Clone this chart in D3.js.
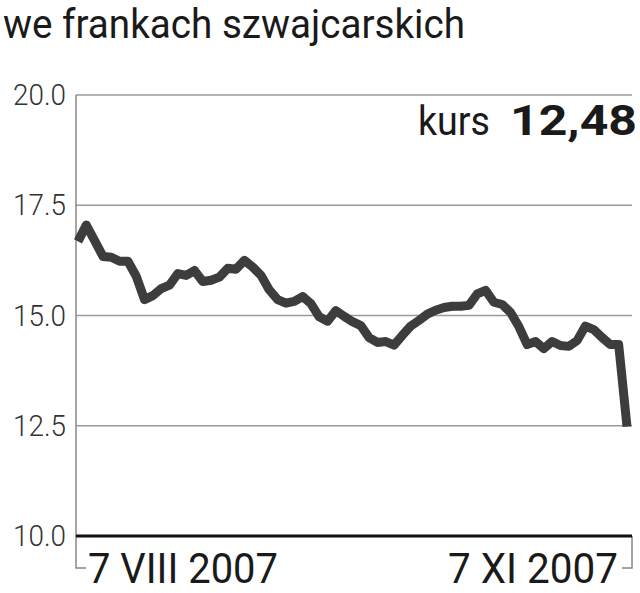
<!DOCTYPE html>
<html><head><meta charset="utf-8">
<script src="https://cdn.jsdelivr.net/npm/d3@7"></script>
<style>html,body{margin:0;padding:0;background:#fff;}svg{display:block;}</style>
</head><body>
<svg id="c" width="640" height="593"></svg>
<script>
const title = "we frankach szwajcarskich";
const yTicks = [10.0, 12.5, 15.0, 17.5, 20.0];
const xLabels = ["7 VIII 2007", "7 XI 2007"];
const lastLabel = "kurs";
const lastValue = "12,48";
const values = [16.68,17.05,16.70,16.34,16.32,16.23,16.23,15.89,15.36,15.45,
  15.61,15.69,15.95,15.91,16.02,15.77,15.80,15.87,16.07,16.05,
  16.25,16.10,15.91,15.58,15.36,15.28,15.32,15.43,15.27,14.97,
  14.87,15.11,14.98,14.86,14.77,14.50,14.39,14.41,14.33,14.55,
  14.76,14.89,15.03,15.12,15.18,15.21,15.21,15.23,15.49,15.57,
  15.30,15.25,15.07,14.75,14.34,14.41,14.25,14.41,14.32,14.30,
  14.43,14.76,14.68,14.50,14.34,14.34,12.48];

const svg = d3.select("#c");
const L = 76, R = 632, T = 95, B = 536;
const x = d3.scaleLinear().domain([0, values.length - 1]).range([78, 627]);
const y = d3.scaleLinear().domain([10, 20]).range([B, T]);

svg.append("text").attr("x", 3).attr("y", 38).text(title)
  .attr("font-family", "Roboto, sans-serif").attr("font-size", 40)
  .attr("fill", "#1a1a1a").attr("textLength", 462).attr("lengthAdjust", "spacingAndGlyphs");

// gridlines
svg.append("g").selectAll("line").data(yTicks.filter(d => d > 10)).join("line")
  .attr("x1", L).attr("x2", R).attr("y1", d => y(d)).attr("y2", d => y(d))
  .attr("stroke", "#9a9a9a").attr("stroke-width", 1.5);

// y labels
svg.append("g").selectAll("text").data(yTicks).join("text")
  .attr("x", 66).attr("y", d => y(d) + 10).attr("text-anchor", "end")
  .attr("font-family", "Roboto, sans-serif").attr("font-weight", 300)
  .attr("font-size", 29).attr("fill", "#333").attr("textLength", 53).attr("lengthAdjust", "spacingAndGlyphs")
  .text(d => d3.format(".1f")(d));

// left axis + bracket
svg.append("path").attr("d", `M${L},${T}V568H86`).attr("fill", "none")
  .attr("stroke", "#888").attr("stroke-width", 1.5);
svg.append("path").attr("d", `M${R},${B}V568H622`).attr("fill", "none")
  .attr("stroke", "#888").attr("stroke-width", 1.5);

// bottom axis
svg.append("line").attr("x1", L).attr("x2", R).attr("y1", B).attr("y2", B)
  .attr("stroke", "#111").attr("stroke-width", 3);

// x labels
svg.append("text").attr("x", 88).attr("y", 583).text(xLabels[0])
  .attr("font-family", "Roboto, sans-serif").attr("font-size", 42).attr("fill", "#1a1a1a")
  .attr("textLength", 190).attr("lengthAdjust", "spacingAndGlyphs");
svg.append("text").attr("x", 448).attr("y", 583).text(xLabels[1])
  .attr("font-family", "Roboto, sans-serif").attr("font-size", 42).attr("fill", "#1a1a1a")
  .attr("textLength", 170).attr("lengthAdjust", "spacingAndGlyphs");

// line
const line = d3.line().x((d, i) => x(i)).y(d => y(d));
svg.append("path").datum(values).attr("d", line).attr("fill", "none")
  .attr("stroke", "#3d3d3d").attr("stroke-width", 9).attr("stroke-linejoin", "round");

// annotation
svg.append("text").attr("x", 418).attr("y", 135).text(lastLabel)
  .attr("font-family", "Roboto, sans-serif").attr("font-size", 40).attr("fill", "#1a1a1a")
  .attr("textLength", 72).attr("lengthAdjust", "spacingAndGlyphs");
svg.append("text").attr("x", 510).attr("y", 135).text(lastValue)
  .attr("font-family", "Roboto, sans-serif").attr("font-weight", 700).attr("font-size", 43).attr("fill", "#1a1a1a")
  .attr("textLength", 127).attr("lengthAdjust", "spacingAndGlyphs");
</script>
</body></html>
